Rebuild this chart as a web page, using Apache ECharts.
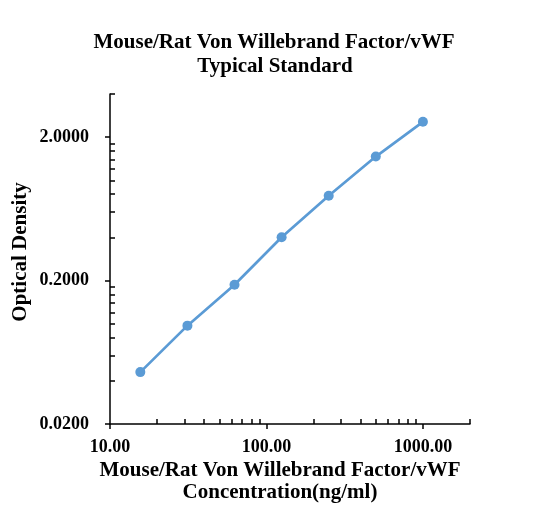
<!DOCTYPE html>
<html><head><meta charset="utf-8">
<script src="https://cdn.jsdelivr.net/npm/echarts@6/dist/echarts.min.js"></script>
<style>html,body{margin:0;padding:0;background:#fff}#c{width:552px;height:529px}</style>
</head><body><div id="c"></div>
<script>
const concentrations = [15.625, 31.25, 62.5, 125, 250, 500, 1000];
const opticalDensity = [0.046, 0.097, 0.187, 0.401, 0.780, 1.465, 2.56];
const xMajorTicks = [10, 100, 1000];
const yMajorTicks = [0.02, 0.2, 2];
const xMinorTicks = [20, 30, 40, 50, 60, 70, 80, 90, 200, 300, 400, 500, 600, 700, 800, 900, 2000];
const yMinorTicks = [0.04, 0.06, 0.08, 0.1, 0.12, 0.14, 0.16, 0.18, 0.4, 0.6, 0.8, 1.0, 1.2, 1.4, 1.6, 1.8, 4];
const xRange = [10, 2000];
const yRange = [0.02, 4];
const titleLines = ['Mouse/Rat Von Willebrand Factor/vWF', 'Typical Standard'];
const xTitleLines = ['Mouse/Rat Von Willebrand Factor/vWF', 'Concentration(ng/ml)'];
const yTitle = 'Optical Density';

const FONT = "'Liberation Serif', 'Times New Roman', serif";
const chart = echarts.init(document.getElementById('c'));

function baseAxis(range) {
  return { type: 'log', logBase: 10, min: range[0], max: range[1], gridIndex: 0, splitLine: { show: false } };
}
const labelStyle = { fontFamily: FONT, fontWeight: 'bold', fontSize: 18, color: '#000' };
const TITLE_FONT = "bold 21px " + FONT;

const option = {
  animation: false,
  backgroundColor: '#fff',
  grid: { left: 110, right: 82, top: 94, bottom: 105, outerBoundsMode: 'none', containLabel: false },
  xAxis: [
    Object.assign(baseAxis(xRange), {
      position: 'bottom',
      axisLine: { show: true, lineStyle: { color: '#000', width: 1.5 } },
      axisTick: { show: true, inside: false, length: 5, customValues: xMajorTicks, lineStyle: { color: '#000', width: 1.5 } },
      axisLabel: Object.assign({ customValues: xMajorTicks, margin: 14, formatter: v => Number(v).toFixed(2) }, labelStyle)
    }),
    Object.assign(baseAxis(xRange), {
      position: 'bottom',
      axisLine: { show: false },
      axisTick: { show: true, inside: true, length: 5, customValues: xMinorTicks, lineStyle: { color: '#000', width: 1.5 } },
      axisLabel: { show: false }
    })
  ],
  yAxis: [
    Object.assign(baseAxis(yRange), {
      position: 'left',
      axisLine: { show: true, lineStyle: { color: '#000', width: 1.5 } },
      axisTick: { show: true, inside: false, length: 5, customValues: yMajorTicks, lineStyle: { color: '#000', width: 1.5 } },
      axisLabel: Object.assign({ customValues: yMajorTicks, margin: 21, formatter: v => Number(v).toFixed(4) }, labelStyle)
    }),
    Object.assign(baseAxis(yRange), {
      position: 'left',
      axisLine: { show: false },
      axisTick: { show: true, inside: true, length: 5, customValues: yMinorTicks, lineStyle: { color: '#000', width: 1.5 } },
      axisLabel: { show: false }
    })
  ],
  series: [{
    type: 'line',
    xAxisIndex: 0, yAxisIndex: 0,
    data: concentrations.map((c, i) => [c, opticalDensity[i]]),
    symbol: 'circle', symbolSize: 10,
    lineStyle: { color: '#5B9BD5', width: 2.7 },
    itemStyle: { color: '#5B9BD5' }
  }],
  graphic: [
    { type: 'text', x: 274, y: 43, style: { text: titleLines[0], font: TITLE_FONT, fill: '#000', textAlign: 'center', textVerticalAlign: 'middle' } },
    { type: 'text', x: 275, y: 67, style: { text: titleLines[1], font: TITLE_FONT, fill: '#000', textAlign: 'center', textVerticalAlign: 'middle' } },
    { type: 'text', x: 280, y: 471, style: { text: xTitleLines[0], font: TITLE_FONT, fill: '#000', textAlign: 'center', textVerticalAlign: 'middle' } },
    { type: 'text', x: 280, y: 493, style: { text: xTitleLines[1], font: TITLE_FONT, fill: '#000', textAlign: 'center', textVerticalAlign: 'middle' } },
    { type: 'text', x: 21, y: 252, rotation: Math.PI / 2, style: { text: yTitle, font: TITLE_FONT, fill: '#000', textAlign: 'center', textVerticalAlign: 'middle' } }
  ]
};
chart.setOption(option);
</script></body></html>
